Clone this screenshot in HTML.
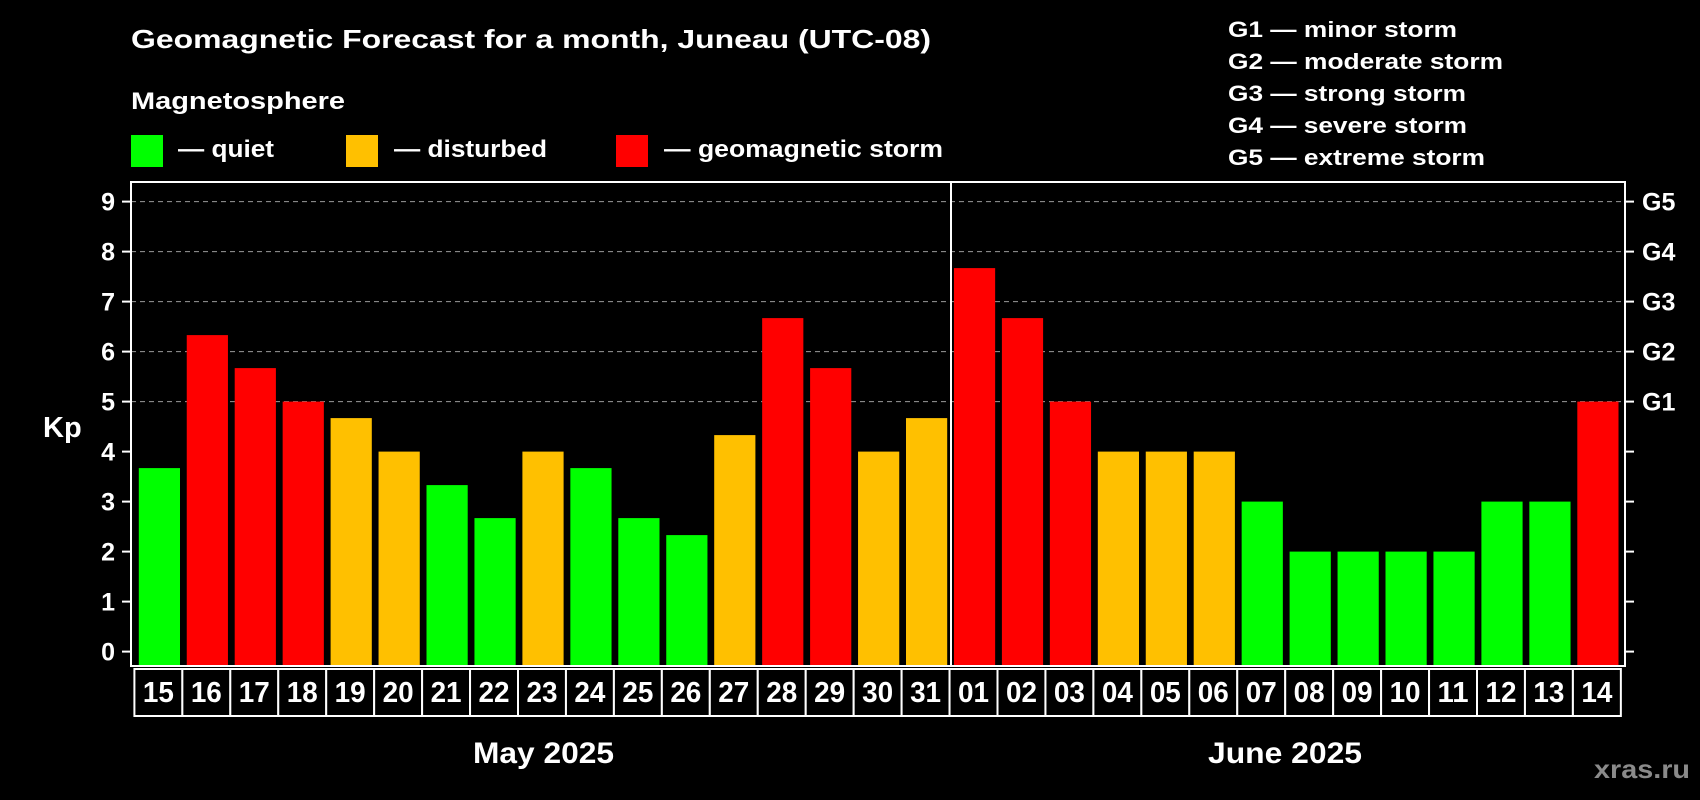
<!DOCTYPE html>
<html><head><meta charset="utf-8"><style>
html,body{margin:0;padding:0;background:#000;}
svg{display:block;font-family:"Liberation Sans",Arial,sans-serif;font-weight:bold;}
</style></head><body>
<svg id="chart" width="1700" height="800" viewBox="0 0 1700 800" xmlns="http://www.w3.org/2000/svg">
<rect x="0" y="0" width="1700" height="800" fill="#000"/>
<text x="131" y="48" font-size="26" fill="#fff" textLength="800" lengthAdjust="spacingAndGlyphs">Geomagnetic Forecast for a month, Juneau (UTC-08)</text>
<text x="131" y="109" font-size="24" fill="#fff" textLength="214" lengthAdjust="spacingAndGlyphs">Magnetosphere</text>
<g><rect x="131" y="135" width="32" height="32" fill="#00ff00"/><text x="178" y="157" font-size="24" fill="#fff" textLength="96" lengthAdjust="spacingAndGlyphs">— quiet</text></g>
<g><rect x="346" y="135" width="32" height="32" fill="#ffc000"/><text x="394" y="157" font-size="24" fill="#fff" textLength="153" lengthAdjust="spacingAndGlyphs">— disturbed</text></g>
<g><rect x="616" y="135" width="32" height="32" fill="#ff0000"/><text x="664" y="157" font-size="24" fill="#fff" textLength="279" lengthAdjust="spacingAndGlyphs">— geomagnetic storm</text></g>
<g font-size="22" fill="#fff">
<text x="1228" y="37" textLength="229" lengthAdjust="spacingAndGlyphs">G1 — minor storm</text>
<text x="1228" y="69" textLength="275" lengthAdjust="spacingAndGlyphs">G2 — moderate storm</text>
<text x="1228" y="101" textLength="238" lengthAdjust="spacingAndGlyphs">G3 — strong storm</text>
<text x="1228" y="133" textLength="239" lengthAdjust="spacingAndGlyphs">G4 — severe storm</text>
<text x="1228" y="165" textLength="257" lengthAdjust="spacingAndGlyphs">G5 — extreme storm</text>
</g>
<text x="43" y="437" font-size="29" fill="#fff">Kp</text>
<text x="473" y="763" font-size="30" fill="#fff" textLength="141" lengthAdjust="spacingAndGlyphs">May 2025</text>
<text x="1208" y="763" font-size="30" fill="#fff" textLength="154" lengthAdjust="spacingAndGlyphs">June 2025</text>
<text x="1594" y="778" font-size="26" fill="#8a8a8a" textLength="96" lengthAdjust="spacingAndGlyphs">xras.ru</text>
<g id="grid"></g><g id="bars"></g><g id="axes"></g><g id="dates"></g>
</svg>
<script>
const days = ["15","16","17","18","19","20","21","22","23","24","25","26","27","28","29","30","31","01","02","03","04","05","06","07","08","09","10","11","12","13","14"];
const kpValues = [3.67,6.33,5.67,5,4.67,4,3.33,2.67,4,3.67,2.67,2.33,4.33,6.67,5.67,4,4.67,7.67,6.67,5,4,4,4,3,2,2,2,2,3,3,5];
const yTicks = [0,1,2,3,4,5,6,7,8,9];
const gLabels = ["G1","G2","G3","G4","G5"];
const gLevels = [5,6,7,8,9];

const NS = "http://www.w3.org/2000/svg";
const plotL = 131, plotR = 1625, plotT = 182, plotB = 666;
const x0 = 138.8, pitch = 47.95, barW = 41.2;
function xScale(i){ return x0 + i*pitch; }
function yScale(v){ return 651.6 - v*50; }
function colorFor(v){ return v < 4 ? "#00ff00" : (v < 5 ? "#ffc000" : "#ff0000"); }
function mk(tag, attrs, parent){ const e=document.createElementNS(NS,tag); for(const k in attrs) e.setAttribute(k,attrs[k]); parent.appendChild(e); return e; }

const grid = document.getElementById("grid");
gLevels.forEach(v=>{
  const l = mk("line",{x1:plotL,x2:plotR,y1:yScale(v),y2:yScale(v),stroke:"#9a9a9a","stroke-width":1,"stroke-dasharray":"5,4"},grid);
  
  
});

const bars = document.getElementById("bars");
kpValues.forEach((v,i)=>{
  const r = mk("rect",{x:xScale(i),y:yScale(v),width:barW,height:plotB-1-yScale(v),fill:colorFor(v)},bars);
  
  
});

const axes = document.getElementById("axes");
const box = mk("rect",{x:plotL,y:plotT,width:plotR-plotL,height:plotB-plotT,fill:"none",stroke:"#fff","stroke-width":2},axes);


const split = mk("line",{x1:951,x2:951,y1:plotT,y2:plotB,stroke:"#fff","stroke-width":2},axes);


yTicks.forEach(v=>{
  const y = yScale(v);
  const t1 = mk("line",{x1:122,x2:plotL,y1:y,y2:y,stroke:"#fff","stroke-width":2},axes);
  
  
  const t2 = mk("line",{x1:plotR,x2:1634,y1:y,y2:y,stroke:"#fff","stroke-width":2},axes);
  
  
  const tx = mk("text",{x:115,y:y+9,"font-size":25,fill:"#fff","text-anchor":"end"},axes);
  tx.textContent = String(v);
  
  
});
gLabels.forEach((g,i)=>{
  const tx = mk("text",{x:1642,y:yScale(gLevels[i])+9,"font-size":25,fill:"#fff"},axes);
  tx.textContent = g;
  
  
});

const dates = document.getElementById("dates");
days.forEach((d,i)=>{
  const cx = 134.4 + i*pitch;
  const c = mk("rect",{x:cx,y:669,width:pitch,height:47,fill:"#000",stroke:"#fff","stroke-width":2},dates);
  
  
  const t = mk("text",{x:cx+pitch/2,y:702,"font-size":29,fill:"#fff","text-anchor":"middle",textLength:31,lengthAdjust:"spacingAndGlyphs"},dates);
  t.textContent = d;
  
  
});
</script>
</body></html>
